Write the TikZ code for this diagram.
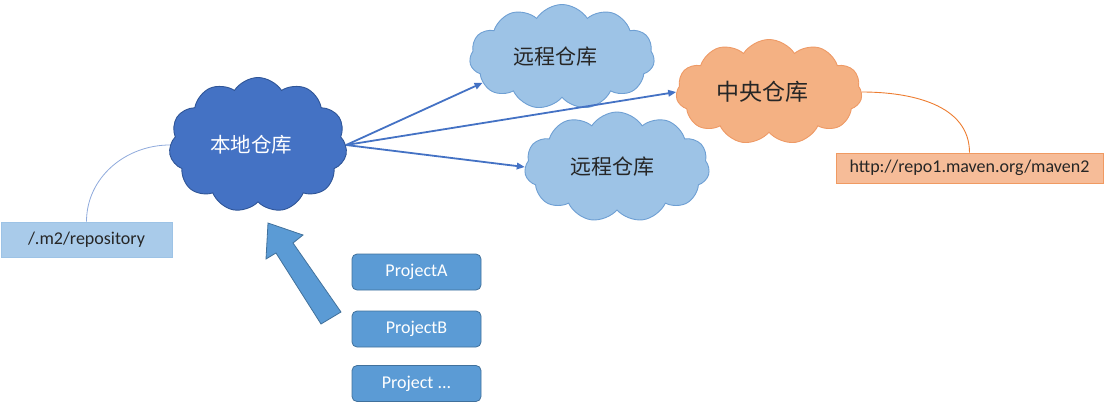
\documentclass[tikz,border=0pt]{standalone}
\usepackage{fontspec}
\setmainfont{Carlito}
\newfontfamily\cjk{Noto Sans CJK SC}
\usetikzlibrary{shapes.symbols,arrows.meta}
\definecolor{localfill}{HTML}{4472C4}
\definecolor{localdraw}{HTML}{2F5597}
\definecolor{remfill}{HTML}{9DC3E6}
\definecolor{remdraw}{HTML}{6E9FD3}
\definecolor{cenfill}{HTML}{F4B183}
\definecolor{cendraw}{HTML}{EE9A66}
\definecolor{projfill}{HTML}{5B9BD5}
\definecolor{projdraw}{HTML}{41719C}
\definecolor{linkcol}{HTML}{4472C4}
\definecolor{leftcurve}{HTML}{8FAADC}
\definecolor{rightcurve}{HTML}{ED7D31}
\definecolor{repofill}{HTML}{A9CBEA}
\definecolor{repodraw}{HTML}{9DC3E6}
\definecolor{urlfill}{HTML}{F6BC98}
\definecolor{urldraw}{HTML}{F09A62}
\tikzset{
  cloudbase/.style={cloud, cloud puffs=11, cloud puff arc=115, cloud ignores aspect, inner sep=0pt, line width=0.9pt},
  localcloud/.style={cloudbase, fill=localfill, draw=localdraw, text=white, font=\cjk\fontsize{20.5}{20.5}\selectfont},
  remotecloud/.style={cloudbase, fill=remfill, draw=remdraw, text=black!85, font=\cjk\fontsize{21}{21}\selectfont},
  centralcloud/.style={cloudbase, fill=cenfill, draw=cendraw, text=black!85, font=\cjk\fontsize{23}{23}\selectfont},
  projbox/.style={rectangle, rounded corners=5pt, fill=projfill, draw=projdraw, line width=0.8pt, text=white, minimum width=129pt, minimum height=36pt, inner sep=0pt, font=\fontsize{18}{18}\selectfont},
  labelbox/.style={rectangle, inner sep=0pt, line width=0.8pt, text=black!85, font=\fontsize{18}{18}\selectfont},
  link/.style={draw=linkcol, line width=1.8pt, -{Triangle[length=8pt,width=6.5pt]}},
  bigarrow/.style={fill=projfill, draw=projdraw, line width=0.8pt, line join=miter},
}
\begin{document}
\begin{tikzpicture}[x=1pt,y=-1pt]
\useasboundingbox (0,0) rectangle (1104,405);
% clouds
\node[localcloud, minimum width=178pt, minimum height=135pt] (local) at (258,145) {\hspace*{-14pt}本地仓库};
\node[remotecloud, minimum width=185pt, minimum height=105pt] (r1) at (562,57) {\hspace*{-14pt}远程仓库};
\node[remotecloud, minimum width=185pt, minimum height=110pt] (r2) at (617,167) {\hspace*{-10pt}远程仓库};
\node[centralcloud, minimum width=186pt, minimum height=105pt] (central) at (769,92) {\hspace*{-14pt}中央仓库};
% label boxes
\node[labelbox, fill=repofill, draw=repodraw, minimum width=171pt, minimum height=35pt] (repo) at (86.5,239.5) {/.m2/repository};
\node[labelbox, fill=urlfill, draw=urldraw, minimum width=267pt, minimum height=30pt] (url) at (969.5,168) {http://repo1.maven.org/maven2};
% project boxes
\node[projbox] (pa) at (416.5,272) {ProjectA};
\node[projbox] (pb) at (416.5,329) {ProjectB};
\node[projbox] (pc) at (416.5,383.5) {Project ...};
% connectors
\draw[link] (local.east) -- (r1.198);
\draw[link] (local.east) -- (central.west);
\draw[link] (local.east) -- (r2.west);
\draw[leftcurve, line width=0.8pt] (local.west) to[out=180,in=90] (repo.north);
\draw[rightcurve, line width=0.9pt] (central.east) to[out=0,in=90] (url.north);
% big block arrow
\coordinate (tip) at (268,223);
\draw[bigarrow] (tip) -- (303,235) -- (293,243) -- (341,312) -- (321,324) -- (276,253) -- (266,259) -- cycle;
\end{tikzpicture}
\end{document}
